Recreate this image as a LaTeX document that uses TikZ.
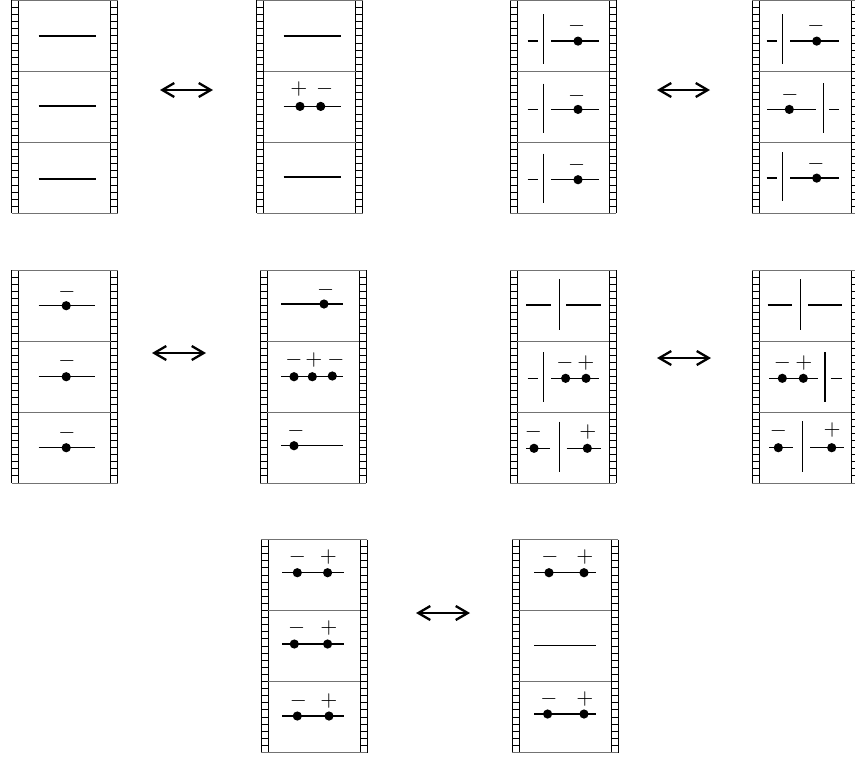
\documentclass[tikz,border=0pt]{standalone}
\usetikzlibrary{arrows.meta}

\newcounter{signno}

\tikzset{
  perf/.style={draw=black, line width=0.5pt},
  rule/.style={draw=black!55, line width=0.5pt},
  wire/.style={draw=black, line width=0.7pt},
  bead/.style={fill=black},
  sign/.style={inner sep=0pt, font=\fontsize{10.5}{12}\selectfont},
  swap arrow/.style={draw=black, line width=1.15pt,
    {Straight Barb[length=6pt,width=7pt]}-{Straight Barb[length=6pt,width=7pt]}},
  f1/.style={shift={(0,0)}},
  f2/.style={shift={(0,71)}},
  f3/.style={shift={(0,142)}},
}

% film strip: name, left edge, top edge (three frames, perforated borders)
\newcommand{\filmstrip}[3]{%
  \begin{scope}[shift={(#2,#3)}]
    \coordinate (#1) at (53,106.5);
    \foreach \px in {0,99}{
      \draw[perf] (\px,0) -- (\px,213) (\px+7,0) -- (\px+7,213);
      \foreach \k in {1,...,29} \draw[perf] (\px,\k*7.1) -- (\px+7,\k*7.1);
    }
    \draw[rule] (0,0) -- (106,0) (0,213) -- (106,213)
                (7,71) -- (99,71) (7,142) -- (99,142);
  \end{scope}}

\newcommand{\fsWire}[3]{\draw[wire] (#1,#3) -- (#2,#3);}
\newcommand{\fsWall}[3]{\draw[wire] (#1,#2) -- (#1,#3);}
\newcommand{\fsBead}[2]{\fill[bead] (#1,#2) circle[radius=2.3pt];}
\newcommand{\fsSign}[3]{\stepcounter{signno}\node[sign] (sign-\arabic{signno}) at (#1,#2) {$#3$};}

\begin{document}
\begin{tikzpicture}[x=0.5pt,y=-0.5pt]
\useasboundingbox (0,0) rectangle (855,757);

% ---------------- row 1 ----------------
\filmstrip{s1}{11.5}{0.4}
\begin{scope}[shift={(18.5,0.4)}]
  \begin{scope}[f1] \fsWire{20}{77}{35.5} \end{scope}
  \begin{scope}[f2] \fsWire{20}{77}{34.5} \end{scope}
  \begin{scope}[f3] \fsWire{20}{77}{36.5} \end{scope}
\end{scope}

\filmstrip{s2}{256.5}{0.4}
\begin{scope}[shift={(264,0.4)}]
  \begin{scope}[f1] \fsWire{19.5}{77}{35.5} \end{scope}
  \begin{scope}[f2]
    \fsWire{19.5}{77}{35}
    \fsBead{36}{35} \fsBead{56.7}{35}
    \fsSign{35}{18}{+} \fsSign{60.7}{17.5}{-}
  \end{scope}
  \begin{scope}[f3] \fsWire{19.5}{77}{34.7} \end{scope}
\end{scope}

\filmstrip{s3}{510}{0.4}
\begin{scope}[shift={(517.3,0.4)}]
  \begin{scope}[f1]
    \fsWire{10.3}{21}{40.7} \fsWall{26.3}{14}{64}
    \fsWire{33.7}{82}{40.7} \fsBead{60.7}{40.7} \fsSign{59.3}{25.7}{-}
  \end{scope}
  \begin{scope}[f2]
    \fsWire{10.3}{21}{38} \fsWall{26.3}{12.3}{61.3}
    \fsWire{33.7}{82}{38} \fsBead{60.7}{38} \fsSign{59.3}{24.7}{-}
  \end{scope}
  \begin{scope}[f3]
    \fsWire{10.3}{21}{37.3} \fsWall{26.3}{11.3}{60.7}
    \fsWire{33.7}{82}{37.3} \fsBead{60.7}{37.3} \fsSign{59.3}{22.3}{-}
  \end{scope}
\end{scope}

\filmstrip{s4}{752}{0.4}
\begin{scope}[shift={(759,0.4)}]
  \begin{scope}[f1]
    \fsWire{7.7}{18.3}{40.7} \fsWall{23.7}{14}{64}
    \fsWire{31}{80}{40.7} \fsBead{57.7}{40.7} \fsSign{56.8}{25.7}{-}
  \end{scope}
  \begin{scope}[f2]
    \fsWire{8.3}{57}{38} \fsBead{30.3}{38} \fsSign{31}{24}{-}
    \fsWall{64.3}{11.7}{61.7} \fsWire{70.3}{80.3}{38}
  \end{scope}
  \begin{scope}[f3]
    \fsWire{7.7}{18.3}{35.7} \fsWall{23.7}{9.7}{59}
    \fsWire{31}{80}{35.7} \fsBead{57.7}{35.7} \fsSign{56.8}{21.3}{-}
  \end{scope}
\end{scope}

% ---------------- row 2 ----------------
\filmstrip{s5}{11.5}{270}
\begin{scope}[shift={(18.5,270)}]
  \begin{scope}[f1] \fsWire{20}{76.7}{35.7} \fsBead{47.7}{35.7} \fsSign{48.3}{22.3}{-} \end{scope}
  \begin{scope}[f2] \fsWire{20}{76.7}{35.7} \fsBead{47.7}{35.7} \fsSign{48.3}{19.7}{-} \end{scope}
  \begin{scope}[f3] \fsWire{20}{76.7}{35.7} \fsBead{47.7}{35.7} \fsSign{48.3}{20.7}{-} \end{scope}
\end{scope}

\filmstrip{s6}{260}{270}
\begin{scope}[shift={(267.3,270)}]
  \begin{scope}[f1]
    \fsWire{13.7}{76}{34} \fsBead{56.7}{34} \fsSign{58.3}{20}{-}
  \end{scope}
  \begin{scope}[f2]
    \fsWire{13.7}{76}{35.7}
    \fsBead{26.7}{35.7} \fsBead{45}{35.7} \fsBead{65}{35}
    \fsSign{26.7}{19}{-} \fsSign{46.7}{19}{+} \fsSign{68.7}{19}{-}
  \end{scope}
  \begin{scope}[f3]
    \fsWire{13.7}{76}{33.7} \fsBead{26.7}{33.7} \fsSign{28.7}{19}{-}
  \end{scope}
\end{scope}

\filmstrip{s7}{510}{270}
\begin{scope}[shift={(517.3,270)}]
  \begin{scope}[f1]
    \fsWall{42}{9.3}{60} \fsWire{8.7}{33.3}{35} \fsWire{48.7}{83.3}{35}
  \end{scope}
  \begin{scope}[f2]
    \fsWire{10.3}{21}{37.3} \fsWall{26.3}{11.3}{60.7}
    \fsWire{33.7}{82}{37.3}
    \fsBead{48.3}{37.3} \fsBead{68.7}{37.3}
    \fsSign{47.7}{22.3}{-} \fsSign{68.7}{22.3}{+}
  \end{scope}
  \begin{scope}[f3]
    \fsWire{8.7}{32.7}{36.3} \fsBead{16.7}{36.3} \fsSign{16}{19.7}{-}
    \fsWall{42}{9.7}{59.7}
    \fsWire{49.3}{83.3}{36.3} \fsBead{70}{36.3} \fsSign{70.7}{19.7}{+}
  \end{scope}
\end{scope}

\filmstrip{s8}{752}{270}
\begin{scope}[shift={(759,270)}]
  \begin{scope}[f1]
    \fsWall{41.7}{9.3}{60} \fsWire{8.7}{33.3}{35} \fsWire{49.3}{83.3}{35}
  \end{scope}
  \begin{scope}[f2]
    \fsWire{10.3}{58.7}{37.3}
    \fsBead{23.3}{37.3} \fsBead{44.3}{37.3}
    \fsSign{23.3}{22}{-} \fsSign{45}{22}{+}
    \fsWall{66}{11.3}{60.7} \fsWire{71.7}{82.7}{37.3}
  \end{scope}
  \begin{scope}[f3]
    \fsWire{10.3}{34.3}{35.7} \fsBead{19.3}{35.7} \fsSign{19.3}{19}{-}
    \fsWall{43.7}{9}{59.7}
    \fsWire{51}{85}{35.7} \fsBead{72.7}{35.7} \fsSign{73}{18.5}{+}
  \end{scope}
\end{scope}

% ---------------- row 3 ----------------
\filmstrip{s9}{261}{539.5}
\begin{scope}[shift={(268.3,539.5)}]
  \begin{scope}[f1]
    \fsWire{14}{75.7}{33.2} \fsBead{29}{33.2} \fsBead{59.3}{33.2}
    \fsSign{29}{17.8}{-} \fsSign{60}{17.8}{+}
  \end{scope}
  \begin{scope}[f2]
    \fsWire{14}{75.7}{33.5} \fsBead{26}{33.5} \fsBead{59.3}{33.5}
    \fsSign{28.3}{17.2}{-} \fsSign{60.7}{17.2}{+}
  \end{scope}
  \begin{scope}[f3]
    \fsWire{14}{75.7}{34.5} \fsBead{29}{34.5} \fsBead{60.7}{34.5}
    \fsSign{30}{19.2}{-} \fsSign{60.7}{19.2}{+}
  \end{scope}
\end{scope}

\filmstrip{s10}{512.3}{539.5}
\begin{scope}[shift={(519.3,539.5)}]
  \begin{scope}[f1]
    \fsWire{15}{76.7}{33.2} \fsBead{29.7}{33.2} \fsBead{64.7}{33.2}
    \fsSign{30.7}{17.8}{-} \fsSign{65.7}{17.8}{+}
  \end{scope}
  \begin{scope}[f2] \fsWire{15}{76.7}{35.2} \end{scope}
  \begin{scope}[f3]
    \fsWire{15}{76.7}{32.5} \fsBead{28.3}{32.5} \fsBead{64.7}{32.5}
    \fsSign{29.7}{17.8}{-} \fsSign{65.7}{17.8}{+}
  \end{scope}
\end{scope}

% ---------------- equivalence arrows ----------------
\coordinate (a1w) at (160,90);  \coordinate (a1e) at (213,90);
\coordinate (a2w) at (657,90);  \coordinate (a2e) at (710,90);
\coordinate (a3w) at (152,353); \coordinate (a3e) at (206,353);
\coordinate (a4w) at (657,358); \coordinate (a4e) at (711,358);
\coordinate (a5w) at (416,613); \coordinate (a5e) at (470,613);
\draw[swap arrow] (a1w) -- (a1e);
\draw[swap arrow] (a2w) -- (a2e);
\draw[swap arrow] (a3w) -- (a3e);
\draw[swap arrow] (a4w) -- (a4e);
\draw[swap arrow] (a5w) -- (a5e);
\end{tikzpicture}
\end{document}
